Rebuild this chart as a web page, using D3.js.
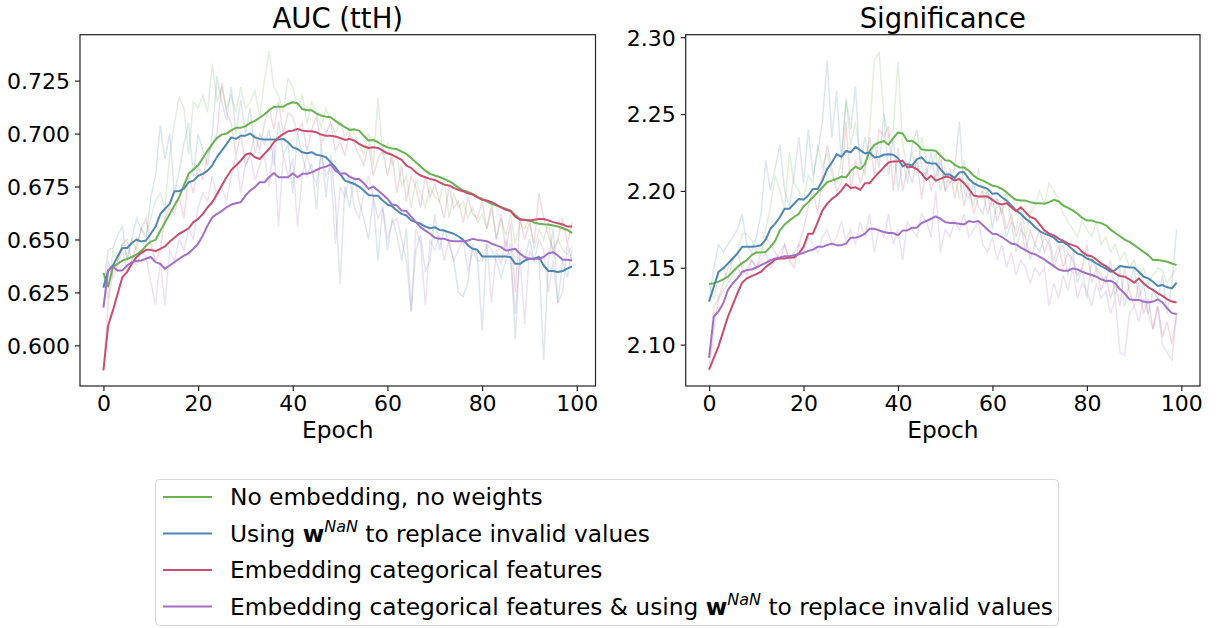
<!DOCTYPE html>
<html>
<head>
<meta charset="utf-8">
<script src="https://cdn.jsdelivr.net/npm/d3@7/dist/d3.min.js"></script>
<style>
    body { margin: 0; background: #ffffff; }
    svg text { font-family: "DejaVu Sans", sans-serif; fill: #000000; }
</style>
</head>
<body>
<div id="chart"></div>
<script>
// epochs 0..99
const epochs = d3.range(0, 100);

const seriesColors = ['#69b352', '#4f87b3', '#c94d6d', '#a46fc8'];

const xTicks = [0, 20, 40, 60, 80, 100];
const aucTicks = [0.600, 0.625, 0.650, 0.675, 0.700, 0.725];
const sigTicks = [2.10, 2.15, 2.20, 2.25, 2.30];

// AUC (ttH), smoothed curves
const aucSmoothNoEmb = [
    0.6343, 0.6278, 0.637, 0.6385, 0.640, 0.6408, 0.6417, 0.643, 0.6445, 0.647,
    0.649, 0.6498, 0.654, 0.658, 0.662, 0.666, 0.670, 0.6755, 0.681, 0.683,
    0.685, 0.6885, 0.692, 0.695, 0.698, 0.6995, 0.700, 0.7015, 0.7027, 0.7027,
    0.7035, 0.705, 0.706, 0.7075, 0.709, 0.711, 0.7127, 0.7127, 0.7127, 0.714,
    0.7148, 0.7143, 0.7116, 0.711, 0.711, 0.7095, 0.7085, 0.708, 0.7077, 0.706,
    0.7045, 0.703, 0.7017, 0.702, 0.7014, 0.699, 0.6967, 0.697, 0.6959, 0.6945,
    0.6935, 0.693, 0.6927, 0.6915, 0.6904, 0.6885, 0.6865, 0.6845, 0.6825, 0.681,
    0.6802, 0.6795, 0.6786, 0.6775, 0.6762, 0.6745, 0.6731, 0.6725, 0.6715, 0.670,
    0.6692, 0.668, 0.6668, 0.666, 0.6652, 0.6645, 0.6637, 0.6615, 0.6597, 0.6592,
    0.659, 0.658, 0.6574, 0.6572, 0.6571, 0.6566, 0.6561, 0.6553, 0.6545, 0.653
];
const aucSmoothWNaN = [
    0.6272, 0.6354, 0.6377, 0.642, 0.646, 0.646, 0.6483, 0.650, 0.649, 0.6495,
    0.6527, 0.656, 0.662, 0.6645, 0.6668, 0.6728, 0.6728, 0.674, 0.677, 0.6778,
    0.680, 0.681, 0.6825, 0.685, 0.689, 0.692, 0.695, 0.6982, 0.6975, 0.699,
    0.699, 0.700, 0.6982, 0.6975, 0.6972, 0.6972, 0.6972, 0.6972, 0.6975, 0.6959,
    0.6935, 0.6927, 0.6912, 0.6907, 0.6912, 0.690, 0.6896, 0.6888, 0.6865, 0.6841,
    0.681, 0.6778, 0.677, 0.6762, 0.675, 0.6731, 0.671, 0.6707, 0.6707, 0.6684,
    0.6665, 0.6656, 0.6637, 0.6621, 0.6613, 0.659, 0.6582, 0.6574, 0.6561, 0.6553,
    0.6558, 0.6545, 0.6542, 0.6534, 0.6527, 0.6514, 0.6498, 0.6472, 0.6456, 0.6451,
    0.642, 0.642, 0.642, 0.642, 0.642, 0.642, 0.6417, 0.6385, 0.6385, 0.640,
    0.6409, 0.6409, 0.6417, 0.6377, 0.6351, 0.6351, 0.6346, 0.6351, 0.6362, 0.6373
];
const aucSmoothEmb = [
    0.5882, 0.6094, 0.6165, 0.6244, 0.6322, 0.6346, 0.6385, 0.6417, 0.6437, 0.6451,
    0.6451, 0.6445, 0.6456, 0.6467, 0.649, 0.6508, 0.6527, 0.6539, 0.6553, 0.6582,
    0.6597, 0.6621, 0.6652, 0.6676, 0.6715, 0.6755, 0.6794, 0.6828, 0.6849, 0.6872,
    0.690, 0.6907, 0.6888, 0.688, 0.6904, 0.6927, 0.6959, 0.6982, 0.6998, 0.7011,
    0.7014, 0.7022, 0.7014, 0.7011, 0.7011, 0.7006, 0.6995, 0.699, 0.699, 0.6986,
    0.6979, 0.697, 0.6975, 0.6967, 0.6951, 0.694, 0.6932, 0.6935, 0.6932, 0.692,
    0.6907, 0.690, 0.6888, 0.6876, 0.6849, 0.6838, 0.6817, 0.6802, 0.6794, 0.6786,
    0.6781, 0.677, 0.6759, 0.6755, 0.6744, 0.6734, 0.6728, 0.6718, 0.6712, 0.670,
    0.6687, 0.6684, 0.6676, 0.6665, 0.6652, 0.664, 0.6634, 0.6608, 0.6593, 0.6593,
    0.659, 0.6593, 0.6597, 0.6597, 0.659, 0.6582, 0.6577, 0.6571, 0.6561, 0.6561
];
const aucSmoothEmbWNaN = [
    0.6178, 0.6354, 0.637, 0.6354, 0.6354, 0.6377, 0.6393, 0.6398, 0.6401, 0.6409,
    0.6417, 0.6393, 0.6385, 0.6362, 0.6377, 0.6393, 0.6409, 0.6424, 0.6435, 0.6456,
    0.648, 0.6519, 0.6566, 0.6605, 0.6621, 0.6634, 0.6652, 0.6665, 0.6671, 0.6676,
    0.6707, 0.6731, 0.6747, 0.677, 0.677, 0.6794, 0.6814, 0.6794, 0.6794, 0.6794,
    0.6813, 0.6794, 0.681, 0.681, 0.6817, 0.6828, 0.6838, 0.6844, 0.6854, 0.6825,
    0.681, 0.6813, 0.6797, 0.6786, 0.6786, 0.6766, 0.6739, 0.675, 0.6731, 0.6712,
    0.6692, 0.6665, 0.666, 0.6637, 0.6634, 0.6608, 0.6582, 0.6558, 0.6542, 0.6527,
    0.6508, 0.6503, 0.6503, 0.6495, 0.6492, 0.6492, 0.6492, 0.6495, 0.6503, 0.6498,
    0.6495, 0.6492, 0.648, 0.6472, 0.6464, 0.6448, 0.6451, 0.6456, 0.6432, 0.6417,
    0.6409, 0.6409, 0.6409, 0.6417, 0.6435, 0.644, 0.6424, 0.6404, 0.6404, 0.6401
];

// AUC (ttH), raw per-epoch values
const aucRawNoEmb = [
    0.634, 0.622, 0.645, 0.640, 0.648, 0.642, 0.650, 0.645, 0.655, 0.652,
    0.660, 0.668, 0.672, 0.665, 0.690, 0.705, 0.717, 0.712, 0.690, 0.715,
    0.712, 0.718, 0.710, 0.733, 0.715, 0.722, 0.712, 0.718, 0.710, 0.722,
    0.712, 0.715, 0.720, 0.708, 0.725, 0.739, 0.722, 0.718, 0.710, 0.726,
    0.722, 0.712, 0.718, 0.705, 0.715, 0.710, 0.703, 0.712, 0.705, 0.700,
    0.706, 0.698, 0.703, 0.700, 0.695, 0.690, 0.700, 0.685, 0.717, 0.690,
    0.695, 0.685, 0.690, 0.675, 0.680, 0.665, 0.678, 0.672, 0.665, 0.675,
    0.670, 0.668, 0.680, 0.660, 0.672, 0.665, 0.668, 0.660, 0.665, 0.658,
    0.662, 0.655, 0.668, 0.650, 0.660, 0.652, 0.662, 0.648, 0.658, 0.655,
    0.660, 0.645, 0.655, 0.650, 0.658, 0.642, 0.650, 0.645, 0.643, 0.647
];
const aucRawWNaN = [
    0.628, 0.645, 0.646, 0.652, 0.656, 0.640, 0.650, 0.660, 0.655, 0.650,
    0.670, 0.680, 0.704, 0.688, 0.700, 0.672, 0.682, 0.695, 0.705, 0.680,
    0.700, 0.692, 0.685, 0.700, 0.727, 0.715, 0.706, 0.722, 0.700, 0.716,
    0.700, 0.712, 0.690, 0.700, 0.695, 0.702, 0.685, 0.706, 0.690, 0.695,
    0.672, 0.700, 0.690, 0.680, 0.686, 0.664, 0.695, 0.670, 0.690, 0.668,
    0.629, 0.675, 0.665, 0.680, 0.668, 0.660, 0.650, 0.670, 0.640, 0.665,
    0.645, 0.660, 0.652, 0.640, 0.655, 0.616, 0.645, 0.652, 0.635, 0.640,
    0.662, 0.645, 0.655, 0.648, 0.640, 0.625, 0.623, 0.630, 0.648, 0.642,
    0.607, 0.648, 0.645, 0.640, 0.632, 0.640, 0.648, 0.603, 0.645, 0.640,
    0.650, 0.640, 0.642, 0.593, 0.640, 0.655, 0.620, 0.640, 0.632, 0.645
];
const aucRawEmb = [
    0.588, 0.620, 0.635, 0.640, 0.648, 0.650, 0.640, 0.648, 0.655, 0.660,
    0.648, 0.640, 0.645, 0.660, 0.665, 0.662, 0.670, 0.660, 0.680, 0.672,
    0.685, 0.678, 0.690, 0.695, 0.700, 0.724, 0.710, 0.705, 0.690, 0.700,
    0.685, 0.690, 0.700, 0.692, 0.705, 0.712, 0.702, 0.715, 0.700, 0.710,
    0.708, 0.700, 0.705, 0.692, 0.702, 0.708, 0.695, 0.700, 0.705, 0.692,
    0.696, 0.690, 0.700, 0.695, 0.690, 0.685, 0.695, 0.680, 0.688, 0.692,
    0.680, 0.690, 0.672, 0.685, 0.668, 0.680, 0.675, 0.665, 0.680, 0.670,
    0.676, 0.668, 0.660, 0.675, 0.665, 0.668, 0.658, 0.670, 0.662, 0.660,
    0.668, 0.655, 0.665, 0.650, 0.662, 0.645, 0.658, 0.625, 0.660, 0.650,
    0.658, 0.648, 0.672, 0.660, 0.652, 0.645, 0.650, 0.660, 0.648, 0.658
];
const aucRawEmbWNaN = [
    0.618, 0.640, 0.632, 0.638, 0.645, 0.635, 0.640, 0.638, 0.645, 0.642,
    0.630, 0.619, 0.640, 0.619, 0.645, 0.640, 0.650, 0.645, 0.655, 0.650,
    0.665, 0.672, 0.668, 0.680, 0.670, 0.675, 0.668, 0.680, 0.690, 0.672,
    0.685, 0.690, 0.678, 0.685, 0.690, 0.675, 0.695, 0.656, 0.690, 0.680,
    0.688, 0.656, 0.680, 0.690, 0.682, 0.676, 0.690, 0.680, 0.684, 0.648,
    0.675, 0.670, 0.680, 0.665, 0.660, 0.672, 0.680, 0.670, 0.660, 0.665,
    0.650, 0.658, 0.660, 0.650, 0.640, 0.616, 0.655, 0.648, 0.619, 0.650,
    0.645, 0.652, 0.640, 0.650, 0.640, 0.645, 0.650, 0.635, 0.645, 0.640,
    0.640, 0.648, 0.620, 0.645, 0.638, 0.650, 0.640, 0.615, 0.642, 0.610,
    0.645, 0.640, 0.650, 0.645, 0.625, 0.640, 0.620, 0.625, 0.648, 0.640
];

// Significance, smoothed curves
const sigSmoothNoEmb = [
    2.1394, 2.140, 2.141, 2.1425, 2.1442, 2.1474, 2.1506, 2.153, 2.155, 2.1582,
    2.160, 2.160, 2.1603, 2.1636, 2.1675, 2.1744, 2.1782, 2.1808, 2.183, 2.1851,
    2.1899, 2.1927, 2.1959, 2.1991, 2.2024, 2.2056, 2.2067, 2.2078, 2.2093, 2.2088,
    2.2131, 2.2157, 2.2142, 2.2174, 2.2261, 2.230, 2.2315, 2.2325, 2.230, 2.2343,
    2.238, 2.2373, 2.2325, 2.2325, 2.2304, 2.2271, 2.2265, 2.2265, 2.2261, 2.2228,
    2.220, 2.2196, 2.217, 2.2153, 2.2153, 2.2131, 2.2099, 2.2078, 2.2067, 2.205,
    2.2034, 2.2028, 2.2013, 2.1991, 2.1963, 2.1942, 2.1937, 2.1937, 2.1927, 2.192,
    2.192, 2.1916, 2.1927, 2.1942, 2.1933, 2.1905, 2.189, 2.1873, 2.1851, 2.1825,
    2.1808, 2.1808, 2.1797, 2.1791, 2.1776, 2.1748, 2.1726, 2.1705, 2.1683, 2.1668,
    2.1647, 2.1625, 2.1603, 2.1582, 2.155, 2.155, 2.1545, 2.1539, 2.1528, 2.1517
];
const sigSmoothWNaN = [
    2.128, 2.1377, 2.1474, 2.1496, 2.1528, 2.156, 2.1593, 2.1636, 2.1636, 2.1636,
    2.164, 2.1647, 2.1683, 2.1754, 2.1787, 2.183, 2.1884, 2.1884, 2.1916, 2.1948,
    2.1942, 2.197, 2.2013, 2.2013, 2.2067, 2.2142, 2.2185, 2.2239, 2.2222, 2.2261,
    2.225, 2.2287, 2.2265, 2.2243, 2.225, 2.2218, 2.2222, 2.2235, 2.2239, 2.2235,
    2.2213, 2.2159, 2.2174, 2.2164, 2.2207, 2.2218, 2.2185, 2.2179, 2.2179, 2.2142,
    2.2106, 2.2106, 2.2084, 2.2121, 2.2121, 2.2078, 2.205, 2.2034, 2.2024, 2.2013,
    2.1981, 2.1985, 2.1959, 2.1937, 2.1905, 2.1873, 2.1851, 2.1819, 2.1797, 2.1765,
    2.1739, 2.1722, 2.1711, 2.1696, 2.1668, 2.1668, 2.1647, 2.1618, 2.1593, 2.1582,
    2.156, 2.155, 2.1528, 2.1511, 2.1496, 2.1474, 2.1485, 2.1511, 2.1506, 2.1502,
    2.1502, 2.1474, 2.1442, 2.1431, 2.1409, 2.1381, 2.1388, 2.1373, 2.1366, 2.1403
];
const sigSmoothEmb = [
    2.0838, 2.0914, 2.0989, 2.1086, 2.1183, 2.1259, 2.1334, 2.1403, 2.1431, 2.1446,
    2.1459, 2.1474, 2.1506, 2.1528, 2.1554, 2.156, 2.156, 2.1567, 2.1567, 2.1593,
    2.1636, 2.1722, 2.1722, 2.1797, 2.1873, 2.1916, 2.1948, 2.197, 2.2002, 2.2045,
    2.2019, 2.2024, 2.2006, 2.205, 2.205, 2.2088, 2.2121, 2.2153, 2.2185, 2.2192,
    2.2192, 2.2196, 2.2153, 2.2157, 2.2142, 2.2114, 2.2071, 2.2099, 2.2067, 2.2078,
    2.2093, 2.2088, 2.2067, 2.2078, 2.205, 2.2013, 2.197, 2.1963, 2.1963, 2.1963,
    2.1942, 2.192, 2.1912, 2.192, 2.1894, 2.1868, 2.1894, 2.1862, 2.183, 2.1819,
    2.1782, 2.1743, 2.1722, 2.1711, 2.169, 2.1675, 2.1657, 2.1647, 2.1636, 2.1603,
    2.1582, 2.1575, 2.1554, 2.1528, 2.1511, 2.1489, 2.1463, 2.1446, 2.1442, 2.1425,
    2.1403, 2.1431, 2.1399, 2.1373, 2.1356, 2.1334, 2.1317, 2.1295, 2.128, 2.1274
];
const sigSmoothEmbWNaN = [
    2.0914, 2.1183, 2.1216, 2.1269, 2.1356, 2.1399, 2.1431, 2.1474, 2.1485, 2.1489,
    2.1502, 2.1517, 2.1532, 2.155, 2.156, 2.1567, 2.1575, 2.1575, 2.1582, 2.1588,
    2.1597, 2.161, 2.1618, 2.1636, 2.1636, 2.1647, 2.1657, 2.1647, 2.1647, 2.1657,
    2.1696, 2.1696, 2.1705, 2.1722, 2.1754, 2.1754, 2.1743, 2.1733, 2.1726, 2.1726,
    2.1711, 2.1743, 2.1743, 2.1761, 2.1761, 2.1791, 2.1804, 2.1819, 2.1834, 2.1819,
    2.1797, 2.1791, 2.1791, 2.1787, 2.1782, 2.1804, 2.1797, 2.1804, 2.1776, 2.1748,
    2.1722, 2.1718, 2.170, 2.1679, 2.1657, 2.1653, 2.1631, 2.1614, 2.1597, 2.1588,
    2.1571, 2.1554, 2.1532, 2.1511, 2.1489, 2.1481, 2.1481, 2.1496, 2.1489, 2.1474,
    2.1463, 2.1453, 2.1442, 2.1425, 2.1414, 2.1416, 2.1399, 2.136, 2.1334, 2.1295,
    2.1291, 2.1291, 2.128, 2.1274, 2.128, 2.1295, 2.1274, 2.1237, 2.1205, 2.12
];

// Significance, raw per-epoch values
const sigRawNoEmb = [
    2.139, 2.130, 2.145, 2.150, 2.142, 2.155, 2.160, 2.172, 2.172, 2.168,
    2.160, 2.165, 2.175, 2.190, 2.210, 2.200, 2.188, 2.225, 2.205, 2.200,
    2.195, 2.210, 2.205, 2.230, 2.215, 2.225, 2.210, 2.205, 2.220, 2.258,
    2.230, 2.245, 2.220, 2.210, 2.240, 2.285, 2.290, 2.250, 2.235, 2.240,
    2.284, 2.230, 2.215, 2.225, 2.210, 2.235, 2.220, 2.215, 2.225, 2.200,
    2.215, 2.205, 2.210, 2.195, 2.220, 2.200, 2.190, 2.215, 2.195, 2.200,
    2.190, 2.195, 2.185, 2.200, 2.180, 2.175, 2.190, 2.170, 2.185, 2.190,
    2.200, 2.192, 2.205, 2.200, 2.195, 2.185, 2.180, 2.175, 2.170, 2.180,
    2.175, 2.170, 2.180, 2.165, 2.170, 2.160, 2.165, 2.155, 2.160, 2.150,
    2.155, 2.145, 2.150, 2.140, 2.145, 2.150, 2.148, 2.140, 2.145, 2.150
];
const sigRawWNaN = [
    2.128, 2.150, 2.165, 2.160, 2.165, 2.170, 2.175, 2.185, 2.165, 2.160,
    2.170, 2.185, 2.220, 2.200, 2.215, 2.230, 2.200, 2.190, 2.210, 2.235,
    2.205, 2.240, 2.210, 2.225, 2.245, 2.285, 2.235, 2.265, 2.220, 2.260,
    2.240, 2.268, 2.215, 2.235, 2.220, 2.230, 2.215, 2.250, 2.210, 2.235,
    2.200, 2.220, 2.205, 2.230, 2.240, 2.215, 2.210, 2.225, 2.205, 2.220,
    2.200, 2.205, 2.215, 2.245, 2.200, 2.195, 2.205, 2.190, 2.185, 2.200,
    2.175, 2.195, 2.185, 2.170, 2.180, 2.160, 2.175, 2.170, 2.155, 2.165,
    2.160, 2.170, 2.165, 2.150, 2.160, 2.165, 2.145, 2.160, 2.140, 2.150,
    2.130, 2.155, 2.150, 2.145, 2.140, 2.155, 2.130, 2.150, 2.125, 2.140,
    2.150, 2.130, 2.140, 2.120, 2.135, 2.130, 2.145, 2.120, 2.140, 2.175
];
const sigRawEmb = [
    2.084, 2.110, 2.130, 2.140, 2.150, 2.155, 2.160, 2.150, 2.145, 2.155,
    2.150, 2.160, 2.170, 2.165, 2.160, 2.155, 2.165, 2.155, 2.150, 2.165,
    2.175, 2.190, 2.200, 2.185, 2.210, 2.230, 2.215, 2.200, 2.205, 2.245,
    2.200, 2.220, 2.205, 2.215, 2.235, 2.210, 2.240, 2.235, 2.242, 2.200,
    2.228, 2.200, 2.215, 2.205, 2.220, 2.195, 2.215, 2.200, 2.210, 2.225,
    2.200, 2.215, 2.195, 2.210, 2.190, 2.205, 2.185, 2.195, 2.200, 2.185,
    2.195, 2.180, 2.190, 2.175, 2.185, 2.170, 2.180, 2.160, 2.175, 2.165,
    2.175, 2.160, 2.168, 2.155, 2.165, 2.150, 2.160, 2.155, 2.145, 2.150,
    2.165, 2.140, 2.150, 2.135, 2.145, 2.130, 2.140, 2.125, 2.150, 2.135,
    2.125, 2.140, 2.120, 2.130, 2.110, 2.125, 2.105, 2.115, 2.100, 2.120
];
const sigRawEmbWNaN = [
    2.091, 2.125, 2.130, 2.135, 2.140, 2.145, 2.150, 2.145, 2.150, 2.155,
    2.150, 2.155, 2.160, 2.150, 2.155, 2.160, 2.165, 2.155, 2.160, 2.165,
    2.160, 2.170, 2.165, 2.160, 2.170, 2.175, 2.165, 2.170, 2.180, 2.168,
    2.175, 2.165, 2.180, 2.170, 2.185, 2.160, 2.175, 2.170, 2.185, 2.165,
    2.175, 2.155, 2.180, 2.175, 2.170, 2.185, 2.180, 2.170, 2.200, 2.160,
    2.175, 2.170, 2.180, 2.175, 2.185, 2.170, 2.175, 2.180, 2.165, 2.160,
    2.170, 2.155, 2.165, 2.150, 2.160, 2.145, 2.155, 2.150, 2.140, 2.150,
    2.145, 2.150, 2.125, 2.140, 2.130, 2.145, 2.135, 2.150, 2.130, 2.140,
    2.135, 2.125, 2.140, 2.130, 2.135, 2.120, 2.130, 2.095, 2.093, 2.120,
    2.125, 2.115, 2.130, 2.120, 2.110, 2.125, 2.100, 2.095, 2.090, 2.120
];

const width = 1227;
const height = 628;

const svg = d3.select('#chart')
    .append('svg')
    .attr('width', width)
    .attr('height', height);

drawPanel(svg, {
    left: 80, right: 595.5, top: 34.7, bottom: 386,
    title: 'AUC (ttH)',
    yDomain: [0.5808, 0.7467],
    yTicks: aucTicks,
    yFormat: d3.format('.3f'),
    raw: [aucRawNoEmb, aucRawWNaN, aucRawEmb, aucRawEmbWNaN],
    smooth: [aucSmoothNoEmb, aucSmoothWNaN, aucSmoothEmb, aucSmoothEmbWNaN],
});

drawPanel(svg, {
    left: 685.7, right: 1200, top: 34.7, bottom: 386,
    title: 'Significance',
    yDomain: [2.0731, 2.3016],
    yTicks: sigTicks,
    yFormat: d3.format('.2f'),
    raw: [sigRawNoEmb, sigRawWNaN, sigRawEmb, sigRawEmbWNaN],
    smooth: [sigSmoothNoEmb, sigSmoothWNaN, sigSmoothEmb, sigSmoothEmbWNaN],
});

drawLegend(svg);

function drawPanel(svg, cfg) {
    const x = d3.scaleLinear().domain([-4.95, 103.95]).range([cfg.left, cfg.right]);
    const y = d3.scaleLinear().domain(cfg.yDomain).range([cfg.bottom, cfg.top]);

    const g = svg.append('g');

    const clipId = 'clip-' + Math.round(cfg.left);
    g.append('clipPath')
        .attr('id', clipId)
        .append('rect')
        .attr('x', cfg.left)
        .attr('y', cfg.top)
        .attr('width', cfg.right - cfg.left)
        .attr('height', cfg.bottom - cfg.top);

    const line = d3.line()
        .x((d, i) => x(epochs[i]))
        .y((d) => y(d));

    const plot = g.append('g').attr('clip-path', `url(#${clipId})`);

    cfg.raw.forEach((values, i) => {
        plot.append('path')
            .datum(values)
            .attr('d', line)
            .attr('fill', 'none')
            .attr('stroke', seriesColors[i])
            .attr('stroke-opacity', 0.2)
            .attr('stroke-width', 1.5);
    });

    cfg.smooth.forEach((values, i) => {
        plot.append('path')
            .datum(values)
            .attr('d', line)
            .attr('fill', 'none')
            .attr('stroke', seriesColors[i])
            .attr('stroke-width', 2)
            .attr('stroke-linejoin', 'round');
    });

    const xAxis = g.append('g')
        .attr('transform', `translate(0, ${cfg.bottom})`)
        .call(d3.axisBottom(x).tickValues(xTicks).tickSize(5).tickPadding(4).tickFormat(d3.format('d')));

    const yAxis = g.append('g')
        .attr('transform', `translate(${cfg.left}, 0)`)
        .call(d3.axisLeft(y).tickValues(cfg.yTicks).tickSize(5).tickPadding(5).tickFormat(cfg.yFormat));

    [xAxis, yAxis].forEach((axis) => {
        axis.select('.domain').remove();
        axis.selectAll('.tick line').attr('stroke', '#222').attr('stroke-width', 1.2);
        axis.selectAll('.tick text')
            .attr('fill', '#000')
            .style('font-size', '22px')
            .style('font-family', '"DejaVu Sans", sans-serif');
    });
    yAxis.selectAll('.tick text').attr('dy', '0.36em');

    g.append('rect')
        .attr('x', cfg.left)
        .attr('y', cfg.top)
        .attr('width', cfg.right - cfg.left)
        .attr('height', cfg.bottom - cfg.top)
        .attr('fill', 'none')
        .attr('stroke', '#222')
        .attr('stroke-width', 1.2);

    const cx = (cfg.left + cfg.right) / 2;

    g.append('text')
        .attr('x', cx)
        .attr('y', 28)
        .attr('text-anchor', 'middle')
        .style('font-size', '27.5px')
        .text(cfg.title);

    g.append('text')
        .attr('x', cx)
        .attr('y', 438)
        .attr('text-anchor', 'middle')
        .style('font-size', '23.3px')
        .text('Epoch');
}

function drawLegend(svg) {
    const legend = svg.append('g').attr('transform', 'translate(155, 479)');

    legend.append('rect')
        .attr('x', 0.5)
        .attr('y', 0.5)
        .attr('width', 903)
        .attr('height', 146)
        .attr('rx', 4)
        .attr('fill', '#ffffff')
        .attr('fill-opacity', 0.8)
        .attr('stroke', '#d6d6d6')
        .attr('stroke-width', 1);

    const labels = [
        [{ t: 'No embedding, no weights' }],
        [{ t: 'Using ' }, { t: 'w', bold: true }, { t: 'NaN', sup: true }, { t: ' to replace invalid values' }],
        [{ t: 'Embedding categorical features' }],
        [{ t: 'Embedding categorical features & using ' }, { t: 'w', bold: true }, { t: 'NaN', sup: true },
            { t: ' to replace invalid values' }],
    ];

    labels.forEach((parts, i) => {
        const row = legend.append('g').attr('transform', `translate(0, ${18 + i * 36.5})`);

        row.append('line')
            .attr('x1', 8)
            .attr('x2', 57)
            .attr('y1', 0)
            .attr('y2', 0)
            .attr('stroke', seriesColors[i])
            .attr('stroke-width', 2);

        const text = row.append('text')
            .attr('x', 75)
            .attr('y', 8)
            .style('font-size', '23.3px');

        parts.forEach((p, j) => {
            const span = text.append('tspan').text(p.t);
            if (p.bold) {
                span.style('font-weight', 'bold');
            }
            if (p.sup) {
                span.style('font-size', '16px')
                    .style('font-style', 'italic')
                    .attr('dy', -10);
            }
            // drop back to baseline after a superscript
            if (j > 0 && parts[j - 1].sup) {
                span.attr('dy', 10);
            }
        });
    });
}
</script>
</body>
</html>
